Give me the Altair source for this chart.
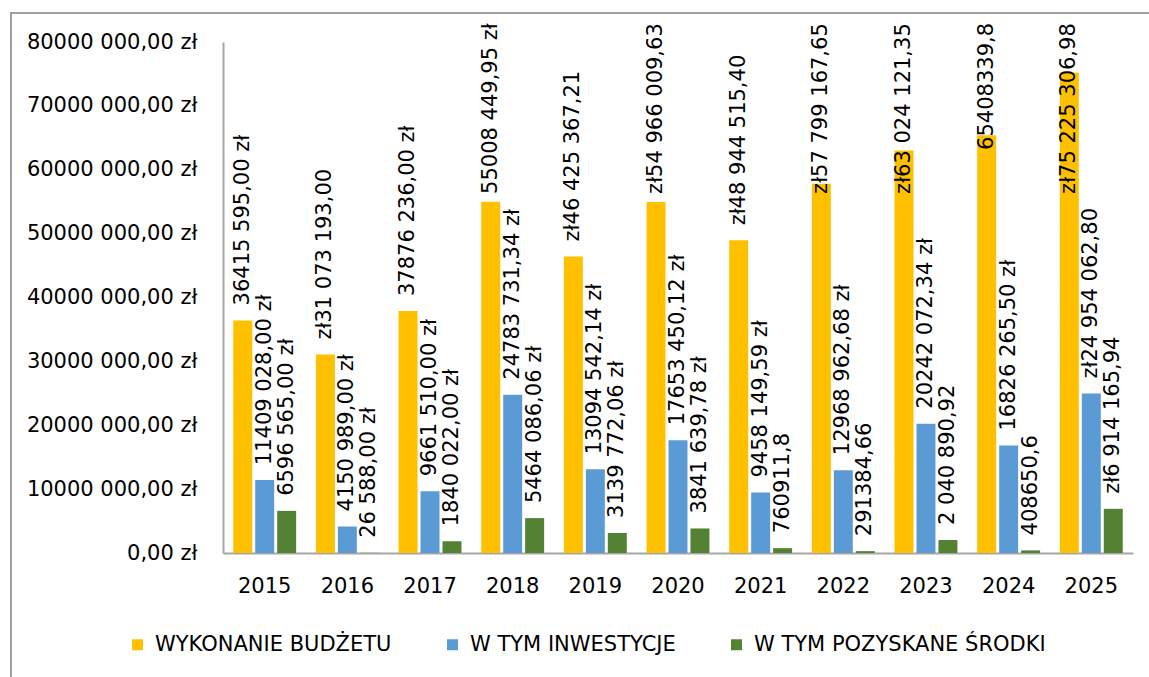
import altair as alt
import pandas as pd

years = ["2015", "2016", "2017", "2018", "2019", "2020", "2021", "2022", "2023", "2024", "2025"]
series = ["WYKONANIE BUDŻETU", "W TYM INWESTYCJE", "W TYM POZYSKANE ŚRODKI"]
colors = ["#FFC000", "#5B9BD5", "#548235"]

budzet = [36415595.00, 31073193.00, 37876236.00, 55008449.95, 46425367.21, 54966009.63,
          48944515.40, 57799167.65, 63024121.35, 65408339.8, 75225306.98]
budzet_labels = ["36415 595,00 zł", "zł31 073 193,00", "37876 236,00 zł", "55008 449,95 zł",
                 "zł46 425 367,21", "zł54 966 009,63", "zł48 944 515,40", "zł57 799 167,65",
                 "zł63 024 121,35", "65408339,8", "zł75 225 306,98"]

inwestycje = [11409028.00, 4150989.00, 9661510.00, 24783731.34, 13094542.14, 17653450.12,
              9458149.59, 12968962.68, 20242072.34, 16826265.50, 24954062.80]
inwestycje_labels = ["11409 028,00 zł", "4150 989,00 zł", "9661 510,00 zł", "24783 731,34 zł",
                     "13094 542,14 zł", "17653 450,12 zł", "9458 149,59 zł", "12968 962,68 zł",
                     "20242 072,34 zł", "16826 265,50 zł", "zł24 954 062,80"]

srodki = [6596565.00, 26588.00, 1840022.00, 5464086.06, 3139772.06, 3841639.78,
          760911.8, 291384.66, 2040890.92, 408650.6, 6914165.94]
srodki_labels = ["6596 565,00 zł", "26 588,00 zł", "1840 022,00 zł", "5464 086,06 zł",
                 "3139 772,06 zł", "3841 639,78 zł", "760911,8", "291384,66",
                 "2 040 890,92", "408650,6", "zł6 914 165,94"]

y_ticks = [0, 10e6, 20e6, 30e6, 40e6, 50e6, 60e6, 70e6, 80e6]

FONT = "DejaVu Sans"
FS = 21

# approximate rendered text width (DejaVu Sans advance widths, em units)
CW = {" ": 0.318, ",": 0.318, "z": 0.523, "ł": 0.30}


def text_width(s):
    return sum(CW.get(c, 0.636) for c in s) * FS


rows = []
for vals, labs, name in [(budzet, budzet_labels, series[0]),
                         (inwestycje, inwestycje_labels, series[1]),
                         (srodki, srodki_labels, series[2])]:
    for yr, v, lab in zip(years, vals, labs):
        rows.append({"year": yr, "series": name, "value": v, "label": lab,
                     "lw": text_width(lab)})
df = pd.DataFrame(rows)

W, H = 910, 511
YMAX = 80e6
U = YMAX / H  # data units per pixel

x_enc = alt.X("year:N", sort=years, title=None,
              scale=alt.Scale(paddingInner=0.239, paddingOuter=0.124),
              axis=alt.Axis(labelFont=FONT, labelFontSize=FS, labelColor="#000000",
                            labelAngle=0, labelPadding=22, ticks=False,
                            domainColor="#A6A6A6", domainWidth=2))
xoff_enc = alt.XOffset("series:N", sort=series,
                       scale=alt.Scale(paddingInner=0.136, paddingOuter=0))
y_scale = alt.Scale(domain=[0, YMAX], nice=False)

bars = alt.Chart(df).mark_bar().encode(
    x=x_enc,
    xOffset=xoff_enc,
    y=alt.Y("value:Q", scale=y_scale, title=None,
            axis=alt.Axis(values=y_ticks, grid=False, ticks=False, labelPadding=26,
                          labelFont=FONT, labelFontSize=FS, labelColor="#000000",
                          domainColor="#A6A6A6", domainWidth=2,
                          labelExpr="datum.value == 0 ? '0,00 zł' : format(datum.value / 1000, 'd') + ' 000,00 zł'")),
    color=alt.Color("series:N", sort=series,
                    scale=alt.Scale(domain=series, range=colors),
                    legend=alt.Legend(title=None, orient="none", direction="horizontal",
                                      legendX=-96, legendY=592,
                                      symbolType="square", symbolSize=121,
                                      symbolStrokeWidth=0, labelFont=FONT,
                                      labelFontSize=FS, labelColor="#000000",
                                      labelLimit=500, labelOffset=7,
                                      columnPadding=50)),
)

texts = alt.Chart(df).transform_calculate(
    anchor=f"min(datum.value + 15 * {U}, {YMAX} + 19 * {U} - datum.lw * {U})"
).mark_text(angle=270, align="left", baseline="middle", font=FONT, fontSize=FS,
            color="#000000").encode(
    x=alt.X("year:N", sort=years),
    xOffset=alt.XOffset("series:N", sort=series),
    y=alt.Y("anchor:Q", scale=y_scale),
    text="label:N",
)

border_left = alt.Chart(df).mark_rule(color="#A0A0A0", strokeWidth=2).encode(
    x=alt.value(-212), y=alt.value(-30), y2=alt.value(700))
border_top = alt.Chart(df).mark_rule(color="#A0A0A0", strokeWidth=2).encode(
    y=alt.value(-29), x=alt.value(-213), x2=alt.value(1100))

chart = alt.layer(bars, texts, border_left, border_top).properties(
    width=W, height=H,
    autosize=alt.AutoSizeParams(type="none"),
    padding={"left": 223, "top": 42, "right": 16, "bottom": 124},
    background="#FFFFFF",
).configure_view(stroke=None)

chart.save("out.html", embed_options={"renderer": "svg", "actions": False})
